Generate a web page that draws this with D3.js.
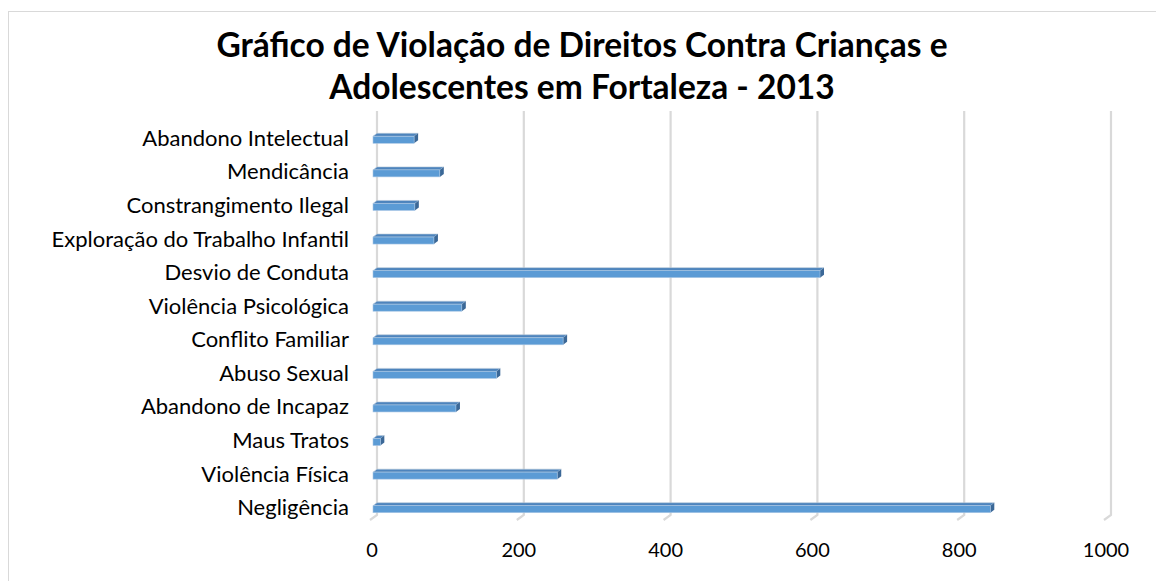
<!DOCTYPE html>
<html>
<head>
<meta charset="utf-8">
<script src="https://cdn.jsdelivr.net/npm/d3@7"></script>
<style>
  body { margin: 0; background: #fff; }
  svg text { font-family: Lato, "Open Sans", sans-serif; fill: #000; }
</style>
</head>
<body>
<div id="chart"></div>
<script>
// categories top to bottom
const categories = [
  "Abandono Intelectual", "Mendicância", "Constrangimento Ilegal",
  "Exploração do Trabalho Infantil", "Desvio de Conduta", "Violência Psicológica",
  "Conflito Familiar", "Abuso Sexual", "Abandono de Incapaz", "Maus Tratos",
  "Violência Física", "Negligência"
];
const values = [56, 91, 57, 83, 609, 121, 259, 168, 113, 10, 251, 841];
const xTicks = [0, 200, 400, 600, 800, 1000];
const titleLines = ["Gráfico de Violação de Direitos Contra Crianças e", "Adolescentes em Fortaleza - 2013"];

const W = 1156, H = 581;
const svg = d3.select("#chart").append("svg").attr("width", W).attr("height", H);

// chart area border (runs off right/bottom)
svg.append("rect").attr("x", 8.5).attr("y", 11.5).attr("width", W + 10).attr("height", H + 10)
  .attr("fill", "none").attr("stroke", "#d9d9d9").attr("stroke-width", 1);

const x = d3.scaleLinear().domain([0, 1000]).range([373, 1107]);
const y = d3.scaleBand().domain(categories).range([122, 525]).paddingInner(0).paddingOuter(0);

const depth = 4; // 3d offset
const gridTop = 111, gridBottom = 515;

// gridlines on the back wall, with a slanted foot on the floor
const grid = svg.append("g");
xTicks.forEach(t => {
  const gx = x(t) + depth;
  grid.append("path")
    .attr("d", `M${gx},${gridTop}L${gx},${gridBottom}L${gx - 7},${gridBottom + 5}`)
    .attr("fill", "none").attr("stroke", "#d9d9d9").attr("stroke-width", 2.2);
});

// tick labels
svg.append("g").selectAll("text").data(xTicks).enter().append("text")
  .attr("x", d => x(d) - 1).attr("y", 557)
  .attr("text-anchor", "middle").attr("font-size", 20).text(d => d);

// category labels
svg.append("g").selectAll("text").data(categories).enter().append("text")
  .attr("x", 349).attr("y", d => y(d) + y.bandwidth() / 2 + 7)
  .attr("text-anchor", "end").attr("font-size", 22).text(d => d);

// 3d bars
const barH = 7;
const bars = svg.append("g").selectAll("g").data(categories).enter().append("g")
  .attr("transform", d => `translate(0,${y(d) + y.bandwidth() / 2 - barH / 2 + 1})`);

bars.append("path") // top face
  .attr("d", (d, i) => {
    const x0 = x(0), x1 = x(values[i]);
    return `M${x0},0L${x0 + depth},${-3}L${x1 + depth},${-3}L${x1},0Z`;
  })
  .attr("fill", "#4d84bd").attr("stroke", "#b9c9da").attr("stroke-width", 0.6);

bars.append("path") // right side
  .attr("d", (d, i) => {
    const x1 = x(values[i]);
    return `M${x1},0L${x1 + depth},${-3}L${x1 + depth},${barH - 3}L${x1},${barH}Z`;
  })
  .attr("fill", "#3b6897");

bars.append("rect") // front face
  .attr("x", x(0)).attr("y", 0)
  .attr("width", (d, i) => x(values[i]) - x(0)).attr("height", barH)
  .attr("fill", "#5b9bd5").attr("stroke", "#a9c6e4").attr("stroke-width", 0.6);

// title
svg.append("g").selectAll("text").data(titleLines).enter().append("text")
  .attr("x", 582).attr("y", (d, i) => 57 + i * 42)
  .attr("text-anchor", "middle").attr("font-size", 33.5).attr("font-weight", "bold")
  .text(d => d);
</script>
</body>
</html>
